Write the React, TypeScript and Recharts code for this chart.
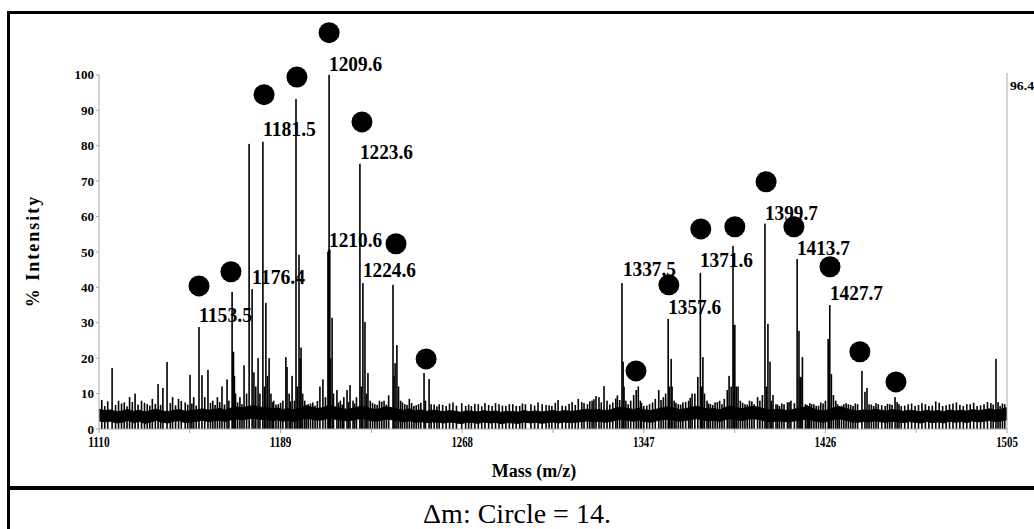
import React from 'react';
import { ComposedChart, Bar, Area, Scatter, XAxis, YAxis, ReferenceLine } from 'recharts';

const SERIF = "'Times New Roman', 'Liberation Serif', serif";

// axis ticks
const xTicks = [1110, 1149.5, 1189, 1228.5, 1268, 1307.5, 1347, 1386.5, 1426, 1465.5, 1505];
const xLabelTicks = [1110, 1189, 1268, 1347, 1426, 1505];
const yTicks = [0, 10, 20, 30, 40, 50, 60, 70, 80, 90, 100];
const rightAxisValue = '96.4';

// spectrum peaks [m/z, % intensity]
const spectrumPeaks: [number, number][] = [
  [1115.7, 17.2], [1118.5, 8], [1121, 7.5], [1123.3, 9], [1125.7, 10], [1128.5, 8], [1131, 7], [1133.2, 8.5],
  [1135.7, 12.7], [1137.8, 11.6], [1139.6, 18.9], [1142, 9], [1144.6, 8.5], [1147.5, 7.5], [1149.6, 15.3],
  [1151.2, 9], [1153.5, 28.8], [1154.8, 15.2], [1156, 9], [1157.4, 16.7], [1159.5, 8], [1161.5, 9],
  [1163.5, 12], [1165.7, 14], [1167.9, 38.7], [1168.2, 21.8], [1168.5, 21.8], [1168.9, 15], [1169.4, 10],
  [1171.3, 9], [1173.1, 18], [1174.2, 10], [1175.3, 80.5], [1176.6, 39.5], [1177.4, 16], [1178.2, 12],
  [1179.2, 20], [1180, 10], [1181.3, 81.1], [1182, 12], [1182.6, 35.6], [1183.3, 15], [1184, 20], [1184.8, 10],
  [1186, 8], [1188, 7], [1190, 8], [1191.3, 20.3], [1191.8, 17.5], [1192.7, 10], [1194, 15], [1195, 8],
  [1195.7, 93.2], [1196.3, 12], [1197, 49.2], [1197.5, 20], [1197.9, 23], [1198.6, 10], [1199.5, 8],
  [1201, 7], [1203, 7.5], [1206.1, 12], [1207.4, 14], [1208.5, 9], [1209.6, 50], [1209.9, 50.6],
  [1210.1, 100], [1210.4, 50.6], [1210.7, 20], [1211.4, 31.4], [1212, 10], [1213.5, 11], [1215, 8],
  [1216.5, 9], [1217.9, 11], [1219.2, 12.4], [1220.5, 8], [1222, 9], [1223.5, 74.9], [1224.1, 12],
  [1224.8, 41.2], [1225.7, 30.2], [1226.3, 10], [1227, 15.8], [1228, 8], [1230, 7], [1232, 8], [1234, 8],
  [1236, 9.5], [1237.9, 40.7], [1238.3, 15], [1238.8, 18.6], [1239.6, 23.7], [1240.3, 12], [1241.2, 8],
  [1243, 7], [1245, 8.5], [1247, 6.5], [1249, 7], [1251.4, 15.8], [1252, 8], [1253.6, 14.1], [1254.5, 7],
  [1258, 7], [1261, 6.5], [1264, 7.5], [1267.8, 7.3], [1269.5, 6.5], [1272, 6.5], [1275, 7], [1277.9, 7.3],
  [1281, 6.5], [1284, 7], [1287, 6.5], [1290, 7], [1293, 6.5], [1295.5, 7], [1297.9, 7], [1301, 7.5],
  [1304.5, 6.8], [1307, 6.5], [1309.7, 8.2], [1313, 6.5], [1315.8, 7.6], [1318.5, 8.5], [1321, 7.3],
  [1322.5, 7], [1324.5, 8], [1326.2, 9.3], [1327.5, 9], [1329.7, 12.1], [1331, 8], [1333.5, 7.5],
  [1335.5, 9.5], [1337.5, 41.2], [1338, 19], [1338.4, 12], [1339.2, 8], [1340.2, 7], [1342.6, 9.6],
  [1343.7, 11], [1344.6, 12], [1345.5, 8], [1347, 6.5], [1349.5, 7], [1352, 8.5], [1353.5, 11], [1355.5, 9],
  [1356.5, 10], [1357.6, 31.1], [1358.2, 12], [1358.9, 19.8], [1359.3, 12], [1360.2, 8], [1362, 7],
  [1364, 7.5], [1366.5, 8], [1368, 10], [1369.2, 10], [1370.5, 14.7], [1371.6, 44.1], [1372.2, 12],
  [1372.7, 20.3], [1373.4, 10], [1374.5, 8], [1376, 7], [1378, 7.5], [1380, 8], [1382, 8.5], [1383.3, 11],
  [1384.1, 15], [1385, 12], [1385.8, 51.7], [1386.2, 29.4], [1386.6, 29.4], [1387.2, 12], [1388, 12],
  [1389, 8], [1391, 7], [1393, 8], [1395, 7], [1396.5, 9], [1397.5, 8], [1398.6, 9.6], [1399.7, 58],
  [1400.3, 12], [1401, 29.7], [1401.9, 19], [1403.2, 9.6], [1404.5, 7], [1406, 6.5], [1408, 7],
  [1409.5, 7.5], [1411, 8], [1412.5, 7.3], [1413.7, 48], [1414.5, 27.7], [1415, 14.7], [1415.4, 14.7],
  [1416, 20.3], [1417.3, 7], [1418.5, 6.5], [1420, 7], [1422, 6.5], [1424, 7.5], [1426, 8], [1427.2, 25.4],
  [1427.5, 25.4], [1427.9, 35], [1428.6, 15.5], [1429.5, 9.6], [1430.5, 8], [1432, 6.5], [1434, 7],
  [1436, 7], [1438, 6.5], [1440, 7], [1441.9, 16.4], [1443.2, 10.5], [1444.1, 11.6], [1445, 7],
  [1447, 6.5], [1449, 7], [1452, 6.5], [1454, 7], [1456.3, 9], [1457.2, 7.6], [1459, 6.5], [1462, 7],
  [1465, 6.5], [1468, 7.3], [1471, 6.5], [1474, 7.8], [1477, 6.5], [1480, 7], [1483, 7.5], [1486, 6.5],
  [1489, 7], [1492, 6.5], [1495, 7], [1498, 7.3], [1500.2, 19.8], [1501.1, 7.6], [1502, 6.5], [1504, 7],
];

// small noise spikes above the baseline band [m/z, % intensity]
const noiseSpikes: [number, number][] = [
  [1111.2, 8.2], [1112.5, 6.5], [1113.8, 7.8], [1117.2, 6.8], [1119.8, 7.2], [1122.2, 6.4], [1124.5, 7.6],
  [1127, 6.9], [1129.8, 7.4], [1132.1, 6.6], [1134.5, 7.1], [1136.8, 6.8], [1141, 7.3], [1143.3, 6.7],
  [1145.8, 7.9], [1148.6, 6.9], [1150.4, 7.2], [1152.3, 6.6], [1158.5, 7.4], [1160.5, 6.8], [1162.5, 7.6],
  [1164.6, 6.9], [1166.5, 8], [1170.3, 7.5], [1172.2, 7], [1185.5, 7.6], [1187, 6.9], [1189, 7.4],
  [1193.3, 7.8], [1200.2, 6.8], [1202, 7.2], [1204, 6.6], [1205, 7.9], [1214.2, 7.5], [1215.8, 6.9],
  [1218.6, 7.6], [1221.2, 7.2], [1229, 7.4], [1231, 6.8], [1233, 7.7], [1235, 6.9], [1242, 7.5], [1244, 6.8],
  [1246, 7.3], [1248, 6.7], [1250, 7.4], [1255.8, 6.9], [1257, 6.4], [1259.5, 6.8], [1262.5, 7.2],
  [1265.5, 6.6], [1270.8, 6.9], [1273.5, 7.1], [1276.5, 6.4], [1279.5, 6.8], [1282.5, 7.3], [1285.5, 6.6],
  [1288.5, 7.0], [1291.5, 6.5], [1294.2, 7.2], [1299.5, 6.6], [1302.8, 7.0], [1305.8, 6.7], [1308.5, 7.4],
  [1311.5, 6.6], [1314.5, 7.1], [1317.2, 6.8], [1320, 7.6], [1323.5, 7.8], [1325.3, 8.4], [1328.5, 7.5],
  [1332.2, 6.9], [1334.8, 8.6], [1336.5, 8.2], [1341.3, 8], [1346, 7.4], [1348.3, 6.6], [1350.8, 7.5],
  [1354.5, 8.2], [1361, 7.4], [1363, 6.9], [1365.2, 7.6], [1367.2, 8.8], [1375.2, 7.2], [1377, 6.8],
  [1379, 7.6], [1381, 7.0], [1390, 7.4], [1392, 6.9], [1394, 7.8], [1402.5, 8], [1405.2, 6.9], [1407, 7.2],
  [1410.2, 7.6], [1418, 6.8], [1419.2, 7.3], [1421, 7.0], [1423, 6.6], [1425, 7.2], [1431.3, 7.0],
  [1433, 6.6], [1435, 7.3], [1437, 6.8], [1439, 7.2], [1446, 6.9], [1448, 7.3], [1450.5, 6.7], [1453, 7.1],
  [1455, 6.8], [1458, 7.0], [1460.5, 6.6], [1463.5, 7.2], [1466.5, 6.8], [1469.5, 7.0], [1472.5, 6.6],
  [1475.5, 7.4], [1478.5, 6.7], [1481.5, 7.2], [1484.5, 6.8], [1487.5, 7.0], [1490.5, 7.4], [1493.5, 6.7],
  [1496.5, 7.6], [1499, 6.9], [1503, 7.2],
];

// baseline noise band, sampled every 2.5 m/z from 1110
const noiseStart = 1110;
const noiseStep = 2.5;
const noiseHigh = [
  5.6, 5.2, 5.4, 4.9, 5.1, 5.5, 5.0, 5.3, 4.8, 5.2, 5.6, 5.1, 4.9, 5.3, 5.5, 5.0, 5.2, 5.4, 5.7, 5.3,
  5.5, 5.8, 5.4, 5.9, 6.2, 6.0, 6.4, 6.6, 6.1, 6.3, 5.7, 5.9, 5.5, 5.8, 5.4, 6.0, 6.5, 6.2, 5.8, 6.0,
  6.8, 6.3, 5.9, 5.6, 5.8, 6.2, 6.4, 5.9, 5.5, 5.8, 6.3, 6.0, 5.6, 5.3, 5.7, 5.1, 5.4, 5.0, 5.3, 5.1,
  4.9, 5.2, 5.0, 4.7, 5.1, 5.0, 4.8, 5.2, 4.9, 5.1, 4.7, 5.0, 4.9, 4.8, 5.2, 4.9, 5.1, 4.8, 5.0, 5.2,
  4.9, 5.2, 5.0, 5.1, 5.4, 5.6, 5.3, 5.5, 5.2, 5.4, 5.9, 6.2, 5.8, 5.5, 5.9, 5.4, 5.2, 5.6, 6.0, 6.3,
  5.9, 5.5, 5.7, 6.1, 6.4, 6.0, 5.6, 5.8, 5.4, 6.1, 6.5, 6.0, 5.7, 6.2, 6.4, 6.0, 5.6, 5.3, 5.6, 5.4,
  5.2, 5.6, 5.9, 6.3, 5.9, 5.4, 5.1, 5.5, 6.1, 6.2, 5.8, 5.3, 5.1, 5.4, 5.2, 5.6, 5.3, 5.1, 5.5, 5.2,
  5.0, 5.3, 5.1, 4.9, 5.3, 5.0, 5.2, 4.9, 5.4, 5.1, 5.3, 5.0, 5.5, 5.2, 5.4, 5.7, 5.3, 5.6, 6.0,
];
const noiseLow = [
  2.3, 2.0, 2.2, 1.7, 1.9, 2.4, 1.8, 2.1, 1.6, 2.0, 2.4, 1.9, 1.7, 2.2, 2.3, 1.8, 2.0, 2.2, 2.5, 2.1,
  2.3, 2.5, 2.1, 2.6, 2.8, 2.6, 2.9, 3.0, 2.7, 2.8, 2.4, 2.6, 2.2, 2.5, 2.1, 2.7, 3.0, 2.8, 2.5, 2.6,
  3.1, 2.8, 2.5, 2.3, 2.5, 2.8, 2.9, 2.5, 2.2, 2.4, 2.8, 2.6, 2.3, 2.0, 2.4, 1.9, 2.1, 1.8, 2.0, 1.9,
  1.7, 2.0, 1.8, 1.5, 1.9, 1.8, 1.6, 2.0, 1.7, 1.9, 1.5, 1.8, 1.7, 1.6, 2.0, 1.7, 1.9, 1.6, 1.8, 2.0,
  1.7, 2.0, 1.8, 1.9, 2.1, 2.3, 2.0, 2.2, 1.9, 2.1, 2.5, 2.7, 2.4, 2.2, 2.5, 2.1, 1.9, 2.3, 2.6, 2.8,
  2.5, 2.2, 2.4, 2.7, 2.9, 2.6, 2.3, 2.5, 2.1, 2.7, 2.9, 2.6, 2.4, 2.8, 2.9, 2.6, 2.3, 2.0, 2.3, 2.1,
  2.0, 2.3, 2.5, 2.8, 2.5, 2.1, 1.9, 2.2, 2.7, 2.8, 2.5, 2.0, 1.9, 2.1, 2.0, 2.3, 2.0, 1.9, 2.2, 2.0,
  1.8, 2.1, 1.9, 1.7, 2.1, 1.8, 2.0, 1.7, 2.2, 1.9, 2.1, 1.8, 2.3, 2.0, 2.2, 2.4, 2.1, 2.3, 2.6,
];

// circle markers (Δm = 14 series)
const circleMass = [1153.5, 1167.4, 1181.8, 1196.1, 1210.1, 1224.4, 1239.2, 1252.3,
  1343.6, 1357.9, 1371.8, 1386.6, 1400.2, 1412.3, 1428.0, 1441.0, 1456.7];
const circleIntensity = [40.4, 44.4, 94.4, 99.4, 111.9, 86.7, 52.3, 19.8,
  16.4, 40.7, 56.5, 57.1, 69.8, 57.1, 45.8, 21.8, 13.3];

// peak annotations
const labelText = ['1209.6', '1181.5', '1223.6', '1210.6', '1224.6', '1176.4', '1153.5',
  '1337.5', '1357.6', '1371.6', '1399.7', '1413.7', '1427.7'];
const labelMass = [1210.1, 1181.3, 1223.5, 1210.1, 1224.8, 1176.6, 1153.5,
  1337.9, 1357.6, 1371.4, 1399.7, 1413.6, 1428.0];
const labelIntensity = [103.1, 84.7, 78.2, 53.4, 44.9, 42.9, 32.2,
  45.2, 34.4, 47.7, 61.0, 51.1, 38.4];

const peakRows = [...spectrumPeaks, ...noiseSpikes]
  .sort((a, b) => a[0] - b[0])
  .map(([m, v]) => ({ m, v }));
const noiseRows = noiseHigh.map((h, i) => ({ m: noiseStart + i * noiseStep, band: [noiseLow[i], h] }));
const circleRows = circleMass.map((m, i) => ({ m, v: circleIntensity[i] }));
const labelRows = labelText.map((t, i) => ({ m: labelMass[i], v: labelIntensity[i], text: t }));

const AXIS_GRAY = '#a8a8a8';
const STICK_WIDTH = 1.6;

const XTick = (props: any) => {
  const { x, y, payload } = props;
  if (!xLabelTicks.includes(payload.value)) return <g />;
  return (
    <text x={x} y={y + 12} textAnchor="middle" fontFamily={SERIF} fontWeight="bold" fontSize={15}
      textLength={String(payload.value).length * 5.4} lengthAdjust="spacingAndGlyphs" fill="#000">
      {payload.value}
    </text>
  );
};

const StickShape = (props: any) => {
  const { x, y, width, height } = props;
  if (x == null || y == null || !height) return <g />;
  return <rect x={x + width / 2 - STICK_WIDTH / 2} y={y} width={STICK_WIDTH} height={height} fill="#000" />;
};

const CircleShape = (props: any) => {
  const { cx, cy } = props;
  return <circle cx={cx} cy={cy} r={10.5} fill="#000" />;
};

const LabelShape = (props: any) => {
  const { cx, cy, payload } = props;
  return (
    <text x={cx} y={cy} dominantBaseline="central" fontFamily={SERIF} fontWeight="bold" fontSize={21}
      textLength={53} lengthAdjust="spacingAndGlyphs" fill="#000">
      {payload.text}
    </text>
  );
};

const RightValueLabel = (props: any) => {
  const vb = props.viewBox || {};
  const x = (vb.x ?? 1007) + 3;
  const y = (vb.y ?? 73) + 17;
  return (
    <text x={x} y={y} fontFamily={SERIF} fontWeight="bold" fontSize={13} textLength={24}
      lengthAdjust="spacingAndGlyphs" fill="#000">
      {rightAxisValue}
    </text>
  );
};

export default function App() {
  return (
    <div style={{ position: 'absolute', left: 0, top: 0, width: 1034, height: 529, background: '#fff', overflow: 'hidden' }}>
      <div style={{ position: 'absolute', left: 0, top: 0 }}>
        <ComposedChart width={1034} height={490} data={peakRows} margin={{ top: 4, right: 27, bottom: 0, left: 0 }}>
          <XAxis dataKey="m" type="number" domain={[1110, 1505]} ticks={xTicks} interval={0}
            height={61} tick={<XTick />} tickSize={4} tickMargin={2}
            stroke={AXIS_GRAY} tickLine={{ stroke: AXIS_GRAY }} axisLine={{ stroke: AXIS_GRAY }}
            label={() => (
              <text x={534} y={477} textAnchor="middle" fontFamily={SERIF} fontWeight="bold" fontSize={18} fill="#000">
                Mass (m/z)
              </text>
            )} />
          <YAxis type="number" domain={[0, 120]} ticks={yTicks} interval={0} width={99}
            axisLine={false} tickSize={3} tickMargin={2} tickLine={{ stroke: AXIS_GRAY }}
            tick={{ fontFamily: SERIF, fontWeight: 'bold', fontSize: 13, fill: '#000' }}
            label={() => (
              <text x={33} y={251} transform="rotate(-90 33 251)" textAnchor="middle" dominantBaseline="central"
                fontFamily={SERIF} fontWeight="bold" fontSize={18} letterSpacing={2} fill="#000">
                % Intensity
              </text>
            )} />
          <ReferenceLine segment={[{ x: 1110, y: 0 }, { x: 1110, y: 100 }]} stroke={AXIS_GRAY} ifOverflow="visible" />
          <ReferenceLine segment={[{ x: 1505, y: 0 }, { x: 1505, y: 100.5 }]} stroke={AXIS_GRAY} ifOverflow="visible"
            label={<RightValueLabel />} />
          <Area data={noiseRows} dataKey="band" type="linear" fill="#000" fillOpacity={1} stroke="#000"
            strokeWidth={1} dot={false} activeDot={false} isAnimationActive={false} />
          <Bar dataKey="v" fill="#000" shape={<StickShape />} isAnimationActive={false} />
          <Scatter data={circleRows} dataKey="v" shape={<CircleShape />} isAnimationActive={false} />
          <Scatter data={labelRows} dataKey="v" shape={<LabelShape />} isAnimationActive={false} />
        </ComposedChart>
      </div>
      <svg width={1034} height={529} style={{ position: 'absolute', left: 0, top: 0, pointerEvents: 'none' }}>
        <rect x={7} y={11} width={1040} height={3} fill="#000" />
        <rect x={7} y={11} width={3} height={530} fill="#000" />
        <rect x={7} y={486} width={1040} height={4} fill="#000" />
        <text x={517} y={523} textAnchor="middle" fontFamily={SERIF} fontSize={28} fill="#000">
          Δm: Circle = 14.
        </text>
      </svg>
    </div>
  );
}
